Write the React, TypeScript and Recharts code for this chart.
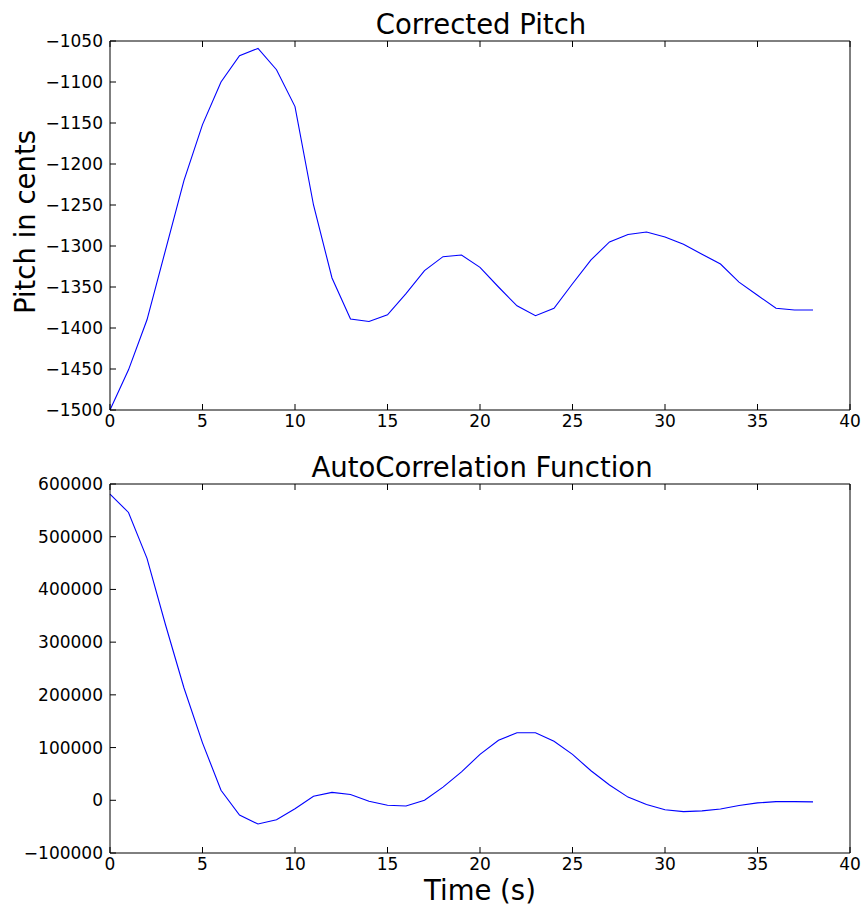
import React from "react";
import { LineChart, Line, XAxis, YAxis } from "recharts";

const time = [
  0, 1, 2, 3, 4, 5, 6, 7, 8, 9, 10, 11, 12, 13, 14, 15, 16, 17, 18, 19, 20,
  21, 22, 23, 24, 25, 26, 27, 28, 29, 30, 31, 32, 33, 34, 35, 36, 37, 38,
];

const pitch = [
  -1500, -1451, -1390, -1305, -1220, -1152, -1100, -1068, -1059, -1085, -1130,
  -1250, -1339, -1389, -1392, -1384, -1358, -1330, -1313, -1311, -1326, -1350,
  -1373, -1385, -1376, -1346, -1317, -1295, -1286, -1283, -1289, -1298, -1310,
  -1322, -1344, -1360, -1376, -1378, -1378,
];

const acf = [
  581000, 546000, 459000, 333000, 213000, 109000, 19000, -28000, -45000,
  -37000, -16000, 7500, 15000, 11000, -2000, -9500, -10700, 0, 25000, 54000,
  87000, 114000, 128000, 128000, 112000, 87000, 56000, 29000, 6000, -8000,
  -18000, -21500, -20000, -16500, -10000, -5000, -2500, -2500, -3000,
];

const xTicks = [0, 5, 10, 15, 20, 25, 30, 35, 40];
const pitchTicks = [
  -1500, -1450, -1400, -1350, -1300, -1250, -1200, -1150, -1100, -1050,
];
const acfTicks = [-100000, 0, 100000, 200000, 300000, 400000, 500000, 600000];

const pitchData = time.map((t, i) => ({ t, v: pitch[i] }));
const acfData = time.map((t, i) => ({ t, v: acf[i] }));

const font = "'DejaVu Sans', sans-serif";
const TICK = 6;
const fmt = (v: number) => (v < 0 ? "\u2212" + Math.abs(v) : String(v));

// inward tick marks, matplotlib style; labels only on bottom and left
const BottomTick = (p: any) => (
  <g>
    <line x1={p.x} x2={p.x} y1={p.y - 5} y2={p.y - 5 - TICK} stroke="#000" />
    <text x={p.x} y={p.y} dy="0.71em" textAnchor="middle" fill="#000"
      fontSize={17} fontFamily={font}>
      {fmt(p.payload.value)}
    </text>
  </g>
);

const LeftTick = (p: any) => (
  <g>
    <line x1={p.x + 7} x2={p.x + 7 + TICK} y1={p.y} y2={p.y} stroke="#000" />
    <text x={p.x} y={p.y} dy="0.355em" textAnchor="end" fill="#000"
      fontSize={17} fontFamily={font}>
      {fmt(p.payload.value)}
    </text>
  </g>
);

const TopTick = (p: any) => (
  <line x1={p.x} x2={p.x} y1={p.y} y2={p.y + TICK} stroke="#000" />
);

const RightTick = (p: any) => (
  <line x1={p.x} x2={p.x - TICK} y1={p.y} y2={p.y} stroke="#000" />
);

interface PanelProps {
  data: { t: number; v: number }[];
  yTicks: number[];
  height: number;
  top: number;
  bottom: number;
}

// one boxed panel with ticks on all four sides
const Panel = ({ data, yTicks, height, top, bottom }: PanelProps) => {
  const yDomain = [yTicks[0], yTicks[yTicks.length - 1]];
  const axisLine = { stroke: "#000", strokeWidth: 1 };
  return (
    <LineChart
      width={868}
      height={height}
      data={data}
      margin={{ top: top - 1, right: 17, left: 0, bottom: 0 }}
    >
      <XAxis
        dataKey="t"
        type="number"
        domain={[0, 40]}
        ticks={xTicks}
        interval={0}
        height={bottom}
        tickSize={0}
        tickMargin={5}
        tickLine={false}
        tick={BottomTick}
        axisLine={axisLine}
      />
      <XAxis
        xAxisId="top"
        orientation="top"
        dataKey="t"
        type="number"
        domain={[0, 40]}
        ticks={xTicks}
        interval={0}
        height={1}
        tickSize={0}
        tickMargin={0}
        tickLine={false}
        tick={TopTick}
        axisLine={axisLine}
      />
      <YAxis
        type="number"
        domain={yDomain}
        ticks={yTicks}
        interval={0}
        width={110}
        tickSize={0}
        tickMargin={7}
        tickLine={false}
        tick={LeftTick}
        axisLine={axisLine}
      />
      <YAxis
        yAxisId="right"
        orientation="right"
        type="number"
        domain={yDomain}
        ticks={yTicks}
        interval={0}
        width={1}
        tickSize={0}
        tickMargin={0}
        tickLine={false}
        tick={RightTick}
        axisLine={axisLine}
      />
      <Line
        dataKey="v"
        type="linear"
        stroke="#0000ff"
        strokeWidth={1.1}
        dot={false}
        isAnimationActive={false}
      />
    </LineChart>
  );
};

const App = () => {
  const big = { fontFamily: font, fontSize: 27.5, fill: "#000" };
  return (
    <div
      style={{
        position: "absolute",
        left: 0,
        top: 0,
        width: 868,
        height: 912,
        background: "#fff",
      }}
    >
      <div style={{ position: "absolute", left: 0, top: 0 }}>
        <Panel data={pitchData} yTicks={pitchTicks} height={450} top={41} bottom={40} />
      </div>
      <div style={{ position: "absolute", left: 0, top: 450 }}>
        <Panel data={acfData} yTicks={acfTicks} height={462} top={34} bottom={59} />
      </div>
      <svg
        width={868}
        height={912}
        style={{ position: "absolute", left: 0, top: 0, pointerEvents: "none" }}
      >
        <text x={481} y={34} textAnchor="middle" {...big}>
          Corrected Pitch
        </text>
        <text x={482} y={477} textAnchor="middle" {...big}>
          AutoCorrelation Function
        </text>
        <text x={480} y={900} textAnchor="middle" {...big}>
          Time (s)
        </text>
        <text
          x={35}
          y={222}
          textAnchor="middle"
          transform="rotate(-90 35 222)"
          {...big}
        >
          Pitch in cents
        </text>
      </svg>
    </div>
  );
};

export default App;
